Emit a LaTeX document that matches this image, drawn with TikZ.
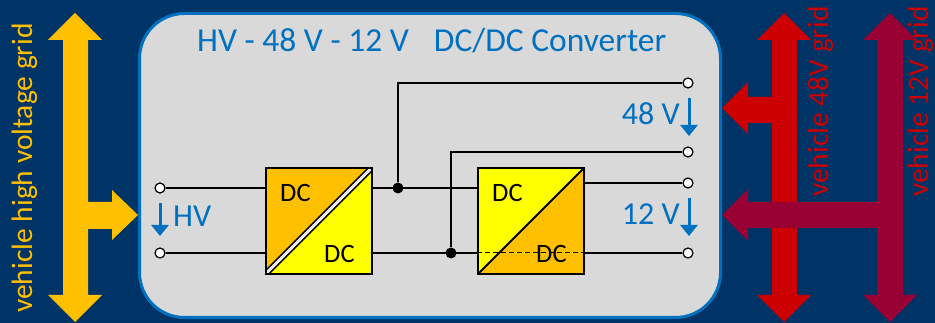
\documentclass[tikz,border=0pt]{standalone}
\usepackage{fontspec}
\setmainfont{Carlito}
\usetikzlibrary{arrows.meta,calc}
\definecolor{bgblue}{RGB}{0,51,102}
\definecolor{boxgray}{RGB}{217,217,217}
\definecolor{titleblue}{RGB}{0,112,192}
\definecolor{hvyellow}{RGB}{255,192,0}
\definecolor{dcyellow}{RGB}{255,255,0}
\definecolor{gridred}{RGB}{204,0,0}
\definecolor{griddark}{RGB}{153,0,51}
\begin{document}
\begin{tikzpicture}[x=1pt,y=-1pt,
  wire/.style={line width=1.5pt, black},
  term/.style={circle, draw=black, fill=white, line width=1.2pt, minimum size=10pt, inner sep=0pt},
  junc/.style={circle, fill=black, minimum size=11pt, inner sep=0pt},
  conv/.style={rectangle, draw=black, line width=2pt, minimum width=106pt, minimum height=106pt, inner sep=0pt},
  vlabel/.style={text=titleblue, font=\fontsize{32}{32}\selectfont, inner sep=0pt},
  dclabel/.style={text=black, font=\fontsize{26.5}{27}\selectfont, inner sep=0pt},
  gridlabel/.style={rotate=90, font=\fontsize{29.5}{30}\selectfont, inner sep=0pt},
  varrow/.style={titleblue, line width=3pt, -{Triangle[width=17pt,length=11pt]}}]
\useasboundingbox (0,0) rectangle (935,323);
\fill[bgblue] (0,0) rectangle (935,323);
% converter frame
\node[draw=titleblue, line width=3pt, fill=boxgray, rounded corners=45pt,
      minimum width=581pt, minimum height=304pt, inner sep=0pt] (frame) at (430,165.5) {};
% grid arrows
\fill[hvyellow] (75,13) -- (102,40) -- (88,40) -- (88,202) -- (112,202) -- (112,190) -- (138,215)
  -- (112,240) -- (112,229) -- (88,229) -- (88,295) -- (102,295) -- (75,322) -- (48,295)
  -- (63,295) -- (63,40) -- (48,40) -- cycle;
\fill[gridred] (784,13) -- (811,40) -- (797,40) -- (797,295) -- (811,295) -- (784,322) -- (757,295)
  -- (772,295) -- (772,123) -- (748,123) -- (748,134) -- (722,108) -- (748,82) -- (748,97)
  -- (772,97) -- (772,40) -- (757,40) -- cycle;
\fill[griddark] (890,13) -- (917,40) -- (903,40) -- (903,295) -- (917,295) -- (890,322) -- (863,295)
  -- (877,295) -- (877,228) -- (748,228) -- (748,241) -- (722,215) -- (748,189) -- (748,202)
  -- (877,202) -- (877,40) -- (863,40) -- cycle;
% grid labels
\node[gridlabel, text=hvyellow, anchor=base west] (lhv) at (32,313) {vehicle high voltage grid};
\node[gridlabel, text=gridred, anchor=base west] (l48) at (828,197) {vehicle 48V grid};
\node[gridlabel, text=gridred, anchor=base west] (l12) at (928,197) {vehicle 12V grid};
% title
\node[vlabel, font=\fontsize{33.5}{34}\selectfont, anchor=base west] (title) at (197,52)
  {HV - 48 V - 12 V\hspace{25pt}DC/DC Converter};
% converters
\node[conv, path picture={
  \fill[hvyellow] (path picture bounding box.north west) -- (path picture bounding box.north east)
     -- (path picture bounding box.south west) -- cycle;
  \fill[dcyellow] (path picture bounding box.north east) -- (path picture bounding box.south east)
     -- (path picture bounding box.south west) -- cycle;
  \draw[line width=1.6pt, double=boxgray!50!white, double distance=3pt]
     (path picture bounding box.south west) -- (path picture bounding box.north east);
}] (c1) at (318.5,221) {};
\node[conv, path picture={
  \fill[dcyellow] (path picture bounding box.north west) -- (path picture bounding box.north east)
     -- (path picture bounding box.south west) -- cycle;
  \fill[hvyellow] (path picture bounding box.north east) -- (path picture bounding box.south east)
     -- (path picture bounding box.south west) -- cycle;
  \draw[line width=1.8pt]
     (path picture bounding box.south west) -- (path picture bounding box.north east);
}] (c2) at (531,221) {};
\node[dclabel, anchor=base west] (c1a) at (280,202) {DC};
\node[dclabel, anchor=base west] (c1b) at (324,263) {DC};
\node[dclabel, anchor=base west] (c2a) at (492,202) {DC};
\node[dclabel, anchor=base west] (c2b) at (536,263) {DC};
% terminals and junctions
\node[term] (t1) at (160,188) {};
\node[term] (t2) at (160,253) {};
\node[term] (o1) at (688,83) {};
\node[term] (o2) at (688,152) {};
\node[term] (o3) at (688,183) {};
\node[term] (o4) at (688,253) {};
\node[junc] (j1) at (398,188) {};
\node[junc] (j2) at (451,253) {};
% wires
\draw[wire] (t1.east) -- (t1.east -| c1.west);
\draw[wire] (t2.east) -- (t2.east -| c1.west);
\draw[wire] (c1.east |- j1) -- (c2.west |- j1);
\draw[wire] (c1.east |- j2) -- (c2.west |- j2);
\draw[wire] (j1) |- (o1.west);
\draw[wire] (j2) |- (o2.west);
\draw[wire] (c2.east |- o3) -- (o3.west);
\draw[wire] (c2.east |- o4) -- (o4.west);
\draw[black, line width=1pt, dash pattern=on 5pt off 3pt] (c2.west |- o4) -- (c2.east |- o4);
% voltage labels
\coordinate (hvs) at (160,203);
\coordinate (hve) at (160,236);
\draw[varrow] (hvs) -- (hve);
\node[vlabel, anchor=base west] (lhvv) at (173,227) {HV};
\coordinate (a48s) at (689,98);
\coordinate (a48e) at (689,136);
\draw[varrow] (a48s) -- (a48e);
\node[vlabel, anchor=base east] (l48v) at (680,125) {48 V};
\coordinate (a12s) at (689,198);
\coordinate (a12e) at (689,236);
\draw[varrow] (a12s) -- (a12e);
\node[vlabel, anchor=base east] (l12v) at (680,225) {12 V};
\end{tikzpicture}
\end{document}
